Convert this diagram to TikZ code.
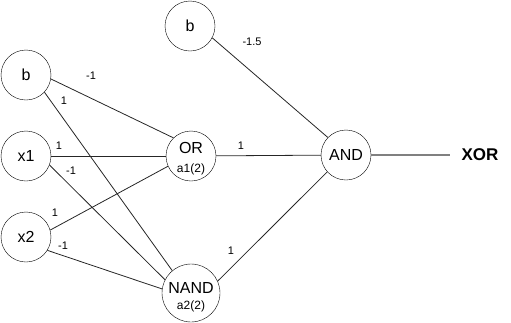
\documentclass[tikz,border=0pt]{standalone}
\usepackage{fontspec}
\setmainfont{Liberation Sans}
\begin{document}
\begin{tikzpicture}[x=1pt,y=-1pt,
  neuron/.style={draw,circle,minimum size=50pt,inner sep=0pt,font=\fontsize{16}{18}\selectfont},
  bignode/.style={draw,circle,minimum size=58pt,inner sep=0pt},
  main/.style={inner sep=0pt,font=\fontsize{16}{18}\selectfont},
  sub/.style={inner sep=0pt,font=\fontsize{12}{14}\selectfont},
  wt/.style={inner sep=0pt,font=\fontsize{11}{13}\selectfont},
  conn/.style={draw=black!85,line width=0.8pt}]
\useasboundingbox (0,0) rectangle (511,322);
\node[neuron] (b1) at (26,75) {b};
\node[neuron] (x1) at (26,156) {x1};
\node[neuron] (x2) at (26,237) {x2};
\node[neuron] (b2) at (190,26) {b};
\node[neuron] (or) at (191,156) {};
\node[main] (ort) at (191,148) {OR};
\node[sub] (ors) at (191,169) {a1(2)};
\node[bignode] (nand) at (191,293) {};
\node[main] (nandt) at (191,288) {NAND};
\node[sub] (nands) at (191,306) {a2(2)};
\node[neuron] (and) at (346,155) {AND};
\coordinate (xe) at (450,155);
\node[inner sep=0pt,font=\fontsize{17}{19}\selectfont\bfseries] (xor) at (480,155) {XOR};

\draw[conn] (b1.-9) -- (or.134);
\draw[conn] (b1.-43) -- (nand.130);
\draw[conn] (x1) -- (or);
\draw[conn] (x1.-21) -- (nand.153);
\draw[conn] (x2.16) -- (or.-156);
\draw[conn] (x2.-32) -- (nand.172);
\draw[conn] (or) -- (and);
\draw[conn] (nand.24) -- (and.-138);
\draw[conn] (b2.-28) -- (and.136);
\draw[draw=gray,line width=1.5pt] (and) -- (xe);

\node[wt] (w1) at (91,76) {-1};
\node[wt] (w2) at (64,101) {1};
\node[wt] (w3) at (59,146) {1};
\node[wt] (w4) at (71,171) {-1};
\node[wt] (w5) at (55,213) {1};
\node[wt] (w6) at (63,246) {-1};
\node[wt] (w7) at (241,146) {1};
\node[wt] (w8) at (231,251) {1};
\node[wt] (w9) at (252,42) {-1.5};
\end{tikzpicture}
\end{document}
